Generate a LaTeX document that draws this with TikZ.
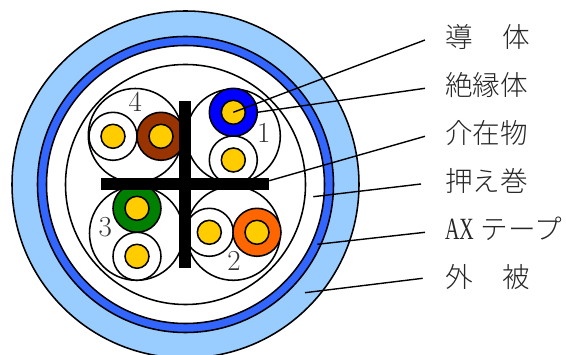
\documentclass[tikz,border=0pt]{standalone}
\usepackage{fontspec}
\newfontfamily\cjk{Noto Sans CJK JP Light}
\newfontfamily\latinser{Liberation Serif}
\definecolor{sheath}{HTML}{99CCFF}
\definecolor{axtape}{HTML}{3366FF}
\definecolor{cu}{HTML}{FFCC00}
\definecolor{wbrown}{HTML}{993300}
\definecolor{wgreen}{HTML}{008000}
\definecolor{worange}{HTML}{FF6600}
\definecolor{wblue}{HTML}{0000FF}
\tikzset{
  ring/.style={circle,draw=black,line width=1.55pt,inner sep=0pt,outer sep=0pt,minimum size=#1},
  insul/.style={ring=48pt,fill=#1},
  core/.style={ring=24pt,fill=cu},
  leader/.style={draw=black,line width=1.4pt},
  lbl/.style={anchor=base west,inner sep=0pt,outer sep=0pt,text=black!85,font=\fontsize{27.6pt}{29pt}\selectfont\cjk},
  num/.style={inner sep=0pt,text=black!80,font=\fontsize{29pt}{29pt}\selectfont}
}
\begin{document}
\begin{tikzpicture}[x=1pt,y=-1pt]
\useasboundingbox (0,0) rectangle (566,355);
\begin{scope}
\clip (0,0) rectangle (566,355);
\node[ring=347pt,fill=sheath] (sheathc) at (185.5,184.5) {};
\node[ring=296pt,fill=axtape] (tapec) at (185.5,184.5) {};
\node[ring=278pt,fill=white] (wrapc) at (185.5,184.5) {};
\node[ring=240pt,fill=white] (innerc) at (185.5,184.5) {};
\end{scope}
% pair circles
\node[ring=94pt] (p1) at (233.3,136) {};
\node[ring=94pt] (p2) at (233.3,233.3) {};
\node[ring=94pt] (p3) at (136.5,233.3) {};
\node[ring=94pt] (p4) at (135.3,135.5) {};
% wires
\node[insul=wblue] (b1) at (233.3,112.3) {};
\node[core] (b1c) at (233.3,112.3) {};
\node[insul=white] (w1) at (233.3,160) {};
\node[core] (w1c) at (233.3,160) {};
\node[insul=white] (w2) at (209.3,232.3) {};
\node[core] (w2c) at (209.3,232.3) {};
\node[insul=worange] (o2) at (257,232.3) {};
\node[core] (o2c) at (257,232.3) {};
\node[insul=wgreen] (g3) at (137,208.3) {};
\node[core] (g3c) at (137,208.3) {};
\node[insul=white] (w3) at (137,256.3) {};
\node[core] (w3c) at (137,256.3) {};
\node[insul=white] (w4) at (113,136.3) {};
\node[core] (w4c) at (113,136.3) {};
\node[insul=wbrown] (br4) at (161,136.3) {};
\node[core] (br4c) at (161,136.3) {};
% filler cross
\fill[black] (179,100.7) rectangle (191,268);
\fill[black] (101,178.3) rectangle (269.3,190);
% numbers
\node[num] (n1) at (263.7,133.3) {1};
\node[num] (n2) at (234,261) {2};
\node[num] (n3) at (105.3,226.7) {3};
\node[num] (n4) at (135.3,102.3) {4};
% labels
\node[lbl] (t1) at (445,48) {導\hspace{1.08em}体};
\node[lbl] (t2) at (445,96) {絶縁体};
\node[lbl] (t3) at (445,144) {介在物};
\node[lbl] (t4) at (445,192) {押え巻};
\node[lbl] (t5) at (445,240) {\scalebox{0.72}[1.12]{\latinser AX}\hspace{0.26em}テープ};
\node[lbl] (t6) at (445,288) {外\hspace{1.08em}被};
% leader ends
\coordinate (e1) at (425,40);
\coordinate (e2) at (425,88.3);
\coordinate (e3) at (425,136.3);
\coordinate (e4) at (421,184);
\coordinate (e5) at (425,232.3);
\coordinate (e6) at (422.7,278.3);
\coordinate (s2) at (257.3,112.3);
\coordinate (s3) at (269.3,180.7);
\coordinate (s4) at (313.3,196.7);
\coordinate (s5) at (317.3,244.3);
\coordinate (s6) at (305,292.7);
\draw[leader] (b1c.center) -- (e1);
\draw[leader] (s2) -- (e2);
\draw[leader] (s3) -- (e3);
\draw[leader] (s4) -- (e4);
\draw[leader] (s5) -- (e5);
\draw[leader] (s6) -- (e6);
\end{tikzpicture}
\end{document}
